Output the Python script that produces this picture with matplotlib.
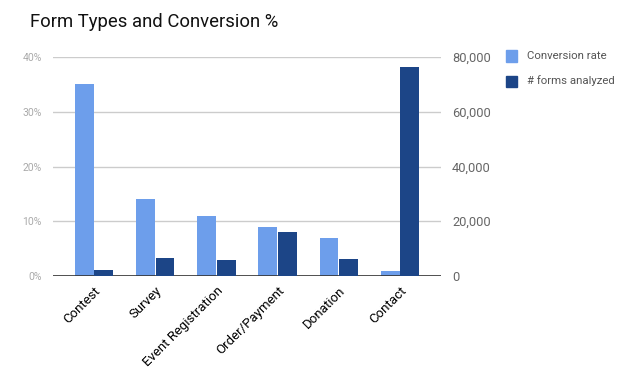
import matplotlib
matplotlib.use("Agg")
import matplotlib.pyplot as plt
import numpy as np
from matplotlib.ticker import FuncFormatter

categories = ["Contest", "Survey", "Event Registration", "Order/Payment", "Donation", "Contact"]
conversion_rate = [35, 14, 11, 9, 7, 1]  # percent
forms_analyzed = [2300, 6700, 5900, 16000, 6300, 76200]

light = "#6d9eeb"
dark = "#1c4587"

plt.rcParams["font.family"] = ["Roboto", "DejaVu Sans"]

fig = plt.figure(figsize=(6.32, 3.73), dpi=100)
ax = fig.add_axes([53 / 632, 97 / 373, 388 / 632, 219 / 373])
ax2 = ax.twinx()

x = np.arange(len(categories))
w = 0.31
ax.bar(x - w / 2 - 0.005, conversion_rate, width=w, color=light, zorder=3)
ax2.bar(x + w / 2 + 0.005, forms_analyzed, width=w, color=dark, zorder=3)

ax.set_xlim(-0.67, 5.67)
ax.set_ylim(0, 40)
ax2.set_ylim(0, 80000)

ax.set_yticks([0, 10, 20, 30, 40])
ax.yaxis.set_major_formatter(FuncFormatter(lambda v, p: f"{int(v)}%"))
ax2.set_yticks([0, 20000, 40000, 60000, 80000])
ax2.yaxis.set_major_formatter(FuncFormatter(lambda v, p: f"{int(v):,}"))

ax.grid(axis="y", color="#cccccc", linewidth=1, zorder=0)
for a in (ax, ax2):
    for s in a.spines.values():
        s.set_visible(False)
ax.axhline(0, color="#333333", linewidth=1.2, zorder=4)

ax.tick_params(axis="y", length=0, pad=8, labelsize=7.5, labelcolor="#aaaaaa")
ax2.tick_params(axis="y", length=0, pad=8, labelsize=9.3, labelcolor="#666666")
ax.set_xticks(x)
ax.set_xticklabels(categories, rotation=45, ha="right", rotation_mode="anchor", fontsize=9.5)
ax.tick_params(axis="x", length=0, pad=6)

fig.text(30 / 632, 1 - 22 / 373, "Form Types and Conversion %", fontsize=13.3,
         va="center", ha="left", color="#111111")

# legend
for i, (lab, col) in enumerate([("Conversion rate", light), ("# forms analyzed", dark)]):
    yy = 1 - (56 + i * 25) / 373
    fig.patches.append(plt.Rectangle((506 / 632, yy - 5.5 / 373), 11 / 632, 11 / 373,
                                     transform=fig.transFigure, color=col, figure=fig))
    fig.text(527 / 632, yy, lab, fontsize=8.2, color="#555555", va="center", ha="left")

fig.savefig("out.png", dpi=100)
